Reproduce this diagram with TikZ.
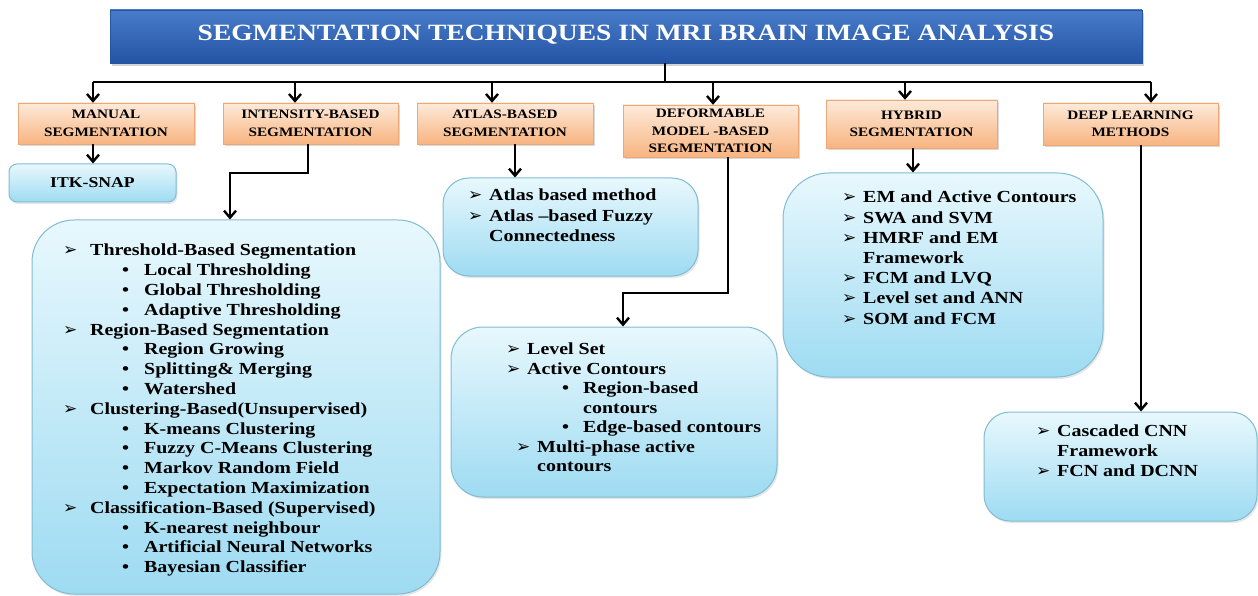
\documentclass[tikz,border=0pt]{standalone}
\usepackage{fontspec}
\setmainfont{Liberation Serif}[FakeStretch=1.18]
\newfontfamily\symfont{DejaVu Sans}
\usetikzlibrary{arrows.meta,shadows,positioning}

\definecolor{titletop}{RGB}{72,124,202}
\definecolor{titlebot}{RGB}{36,84,164}
\definecolor{orgtop}{RGB}{253,234,218}
\definecolor{orgbot}{RGB}{248,180,128}
\definecolor{orgline}{RGB}{236,168,118}
\definecolor{bluetop}{RGB}{232,248,253}
\definecolor{bluebot}{RGB}{158,219,242}
\definecolor{blueline}{RGB}{128,188,210}

\newcommand{\arw}[1][21pt]{\makebox[#1][l]{\symfont\fontsize{17}{19}\selectfont\char"27A2}}
\newcommand{\dotw}{\hspace*{59pt}\makebox[22pt][l]{\textbullet}}

\tikzset{
  titlebox/.style={draw=titlebot, top color=titletop, bottom color=titlebot,
    drop shadow={opacity=0.35, shadow xshift=2pt, shadow yshift=-3pt},
    text=white, font=\fontsize{23.3}{26}\selectfont\bfseries, inner sep=0pt},
  catbox/.style={draw=orgline, top color=orgtop, bottom color=orgbot,
    drop shadow={opacity=0.3, shadow xshift=2pt, shadow yshift=-2pt},
    align=center, inner sep=0pt, font=\fontsize{12.9}{17.5}\selectfont\bfseries},
  listbox/.style={draw=blueline, line width=1pt, top color=bluetop, bottom color=bluebot,
    drop shadow={opacity=0.2, shadow xshift=1.5pt, shadow yshift=-2pt}, inner sep=0pt},
  listtext/.style={anchor=north west, align=left, inner sep=0pt},
  wire/.style={line width=2.4pt},
  arr/.style={line width=2.4pt, -{Straight Barb[length=7pt,width=12pt]}},
}

\begin{document}
\begin{tikzpicture}[x=1pt,y=1pt]
  \useasboundingbox (0,0) rectangle (1258,-596);

  % title
  \node[titlebox, minimum width=1032, minimum height=53] (title) at (626,-36.5)
    {\raisebox{8pt}{SEGMENTATION TECHNIQUES IN MRI BRAIN IMAGE ANALYSIS}};

  % categories
  \node[catbox, minimum width=176, minimum height=41] (manual) at (106,-123.5) {MANUAL\\SEGMENTATION};
  \node[catbox, minimum width=175, minimum height=41] (intensity) at (310.5,-123.5) {INTENSITY-BASED\\SEGMENTATION};
  \node[catbox, minimum width=176, minimum height=41] (atlas) at (505,-123.5) {ATLAS-BASED\\SEGMENTATION};
  \node[catbox, minimum width=175, minimum height=52] (deform) at (710.5,-131) {DEFORMABLE\\MODEL -BASED\\SEGMENTATION};
  \node[catbox, minimum width=171, minimum height=48] (hybrid) at (911.5,-124) {HYBRID\\SEGMENTATION};
  \node[catbox, minimum width=175, minimum height=42] (deep) at (1130.5,-124) {DEEP LEARNING\\METHODS};

  % method boxes
  \node[listbox, rounded corners=8pt, minimum width=167, minimum height=38,
    font=\fontsize{15}{18}\selectfont\bfseries] (itk) at (92.5,-183) {ITK-SNAP};
  \node[listbox, rounded corners=42pt, minimum width=408, minimum height=374] (intlist) at (236,-407) {};
  \node[listbox, rounded corners=26pt, minimum width=255, minimum height=98] (atllist) at (570.5,-227) {};
  \node[listbox, rounded corners=32pt, minimum width=326, minimum height=170] (deflist) at (614,-412) {};
  \node[listbox, rounded corners=46pt, minimum width=320, minimum height=204] (hyblist) at (943,-275) {};
  \node[listbox, rounded corners=26pt, minimum width=273, minimum height=109] (deeplist) at (1120.5,-466.5) {};

  % list texts
  \node[listtext, font=\fontsize{16.9}{19.8}\selectfont\bfseries] (inttext) at (63,-244) {
    \arw[27pt]Threshold-Based Segmentation\\
    \dotw Local Thresholding\\
    \dotw Global Thresholding\\
    \dotw Adaptive Thresholding\\
    \arw[27pt]Region-Based Segmentation\\
    \dotw Region Growing\\
    \dotw Splitting\& Merging\\
    \dotw Watershed\\
    \arw[27pt]Clustering-Based(Unsupervised)\\
    \dotw K-means Clustering\\
    \dotw Fuzzy C-Means Clustering\\
    \dotw Markov Random Field\\
    \dotw Expectation Maximization\\
    \arw[27pt]Classification-Based (Supervised)\\
    \dotw K-nearest neighbour\\
    \dotw Artificial Neural Networks\\
    \dotw Bayesian Classifier};
  \node[listtext, font=\fontsize{16.9}{20.5}\selectfont\bfseries] (atltext) at (468,-189) {
    \arw Atlas based method\\
    \arw Atlas –based Fuzzy\\
    \hspace*{21pt}Connectedness};
  \node[listtext, font=\fontsize{16.9}{19.5}\selectfont\bfseries] (deftext) at (506,-343) {
    \arw Level Set\\
    \arw Active Contours\\
    \hspace*{56pt}\makebox[21pt][l]{\textbullet}Region-based\\
    \hspace*{77pt}contours\\
    \hspace*{56pt}\makebox[21pt][l]{\textbullet}Edge-based contours\\
    \hspace*{10pt}\arw Multi-phase active\\
    \hspace*{31pt}contours};
  \node[listtext, font=\fontsize{16.9}{20.2}\selectfont\bfseries] (hybtext) at (842,-191) {
    \arw EM and Active Contours\\
    \arw SWA and SVM\\
    \arw HMRF and EM\\
    \hspace*{21pt}Framework\\
    \arw FCM and LVQ\\
    \arw Level set and ANN\\
    \arw SOM and FCM};
  \node[listtext, font=\fontsize{16.9}{20}\selectfont\bfseries] (deeptext) at (1036,-425) {
    \arw Cascaded CNN\\
    \hspace*{21pt}Framework\\
    \arw FCN and DCNN};

  % bus from title
  \coordinate (hub) at (665,-82);
  \coordinate (b1) at (93,-82);
  \coordinate (b2) at (295,-82);
  \coordinate (b3) at (492,-82);
  \coordinate (b4) at (713,-82);
  \coordinate (b5) at (905,-82);
  \coordinate (b6) at (1151,-82);
  \draw[wire] (hub |- title.south) -- (hub);
  \draw[wire] (b1) -- (b6);
  \draw[arr] (b1) -- (b1 |- manual.north);
  \draw[arr] (b2) -- (b2 |- intensity.north);
  \draw[arr] (b3) -- (b3 |- atlas.north);
  \draw[arr] (b4) -- (b4 |- deform.north);
  \draw[arr] (b5) -- (b5 |- hybrid.north);
  \draw[arr] (b6) -- (b6 |- deep.north);

  % down to the methods
  \coordinate (k1) at (308,-173);
  \coordinate (k2) at (230,-173);
  \coordinate (k3) at (515,-150);
  \coordinate (k4) at (728,-293);
  \coordinate (k5) at (623,-293);
  \coordinate (k6) at (913,-150);
  \coordinate (k7) at (1141,-150);
  \draw[arr] (b1 |- manual.south) -- (b1 |- itk.north);
  \draw[arr] (k1 |- intensity.south) -- (k1) -- (k2) -- (k2 |- intlist.north);
  \draw[arr] (k3 |- atlas.south) -- (k3 |- atllist.north);
  \draw[arr] (k4 |- deform.south) -- (k4) -- (k5) -- (k5 |- deflist.north);
  \draw[arr] (k6 |- hybrid.south) -- (k6 |- hyblist.north);
  \draw[arr] (k7 |- deep.south) -- (k7 |- deeplist.north);
\end{tikzpicture}
\end{document}
